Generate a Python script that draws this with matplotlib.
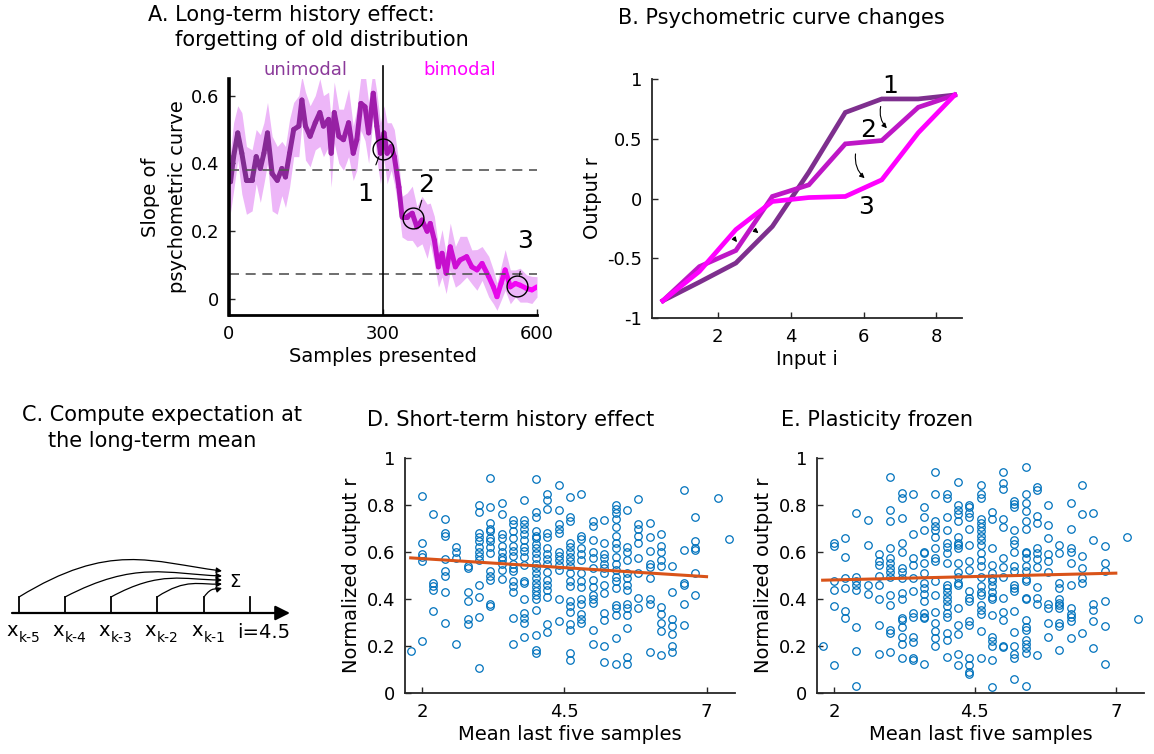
import numpy as np
import matplotlib
matplotlib.use("Agg")
import matplotlib.pyplot as plt
from matplotlib.collections import LineCollection
from matplotlib.colors import LinearSegmentedColormap
from matplotlib.patches import FancyArrowPatch
from matplotlib.path import Path

plt.rcParams['font.family'] = 'DejaVu Sans'

W, H = 1154, 754

# ---- panel A data: slope of psychometric curve over samples
a_x = [0, 3, 9, 17, 25, 34, 45, 53, 61, 68, 75, 84, 94, 103, 110, 118, 126, 136, 142, 149,
       158, 168, 177, 184, 194, 199, 205, 214, 223, 233, 242, 249, 257, 265, 272, 281, 288, 295, 302, 308,
       316, 322, 331, 337, 347, 357, 366, 376, 386, 392, 400, 408, 415, 423, 431, 441, 450, 463, 473, 483,
       493, 506, 515, 522, 530, 538, 548, 558, 567, 580, 590, 600]
a_y = [0.36, 0.346, 0.42, 0.49, 0.43, 0.35, 0.35, 0.42, 0.385, 0.43, 0.49, 0.37, 0.35, 0.385, 0.36, 0.43, 0.50, 0.51, 0.587, 0.51,
       0.48, 0.52, 0.55, 0.51, 0.53, 0.43, 0.55, 0.48, 0.47, 0.52, 0.43, 0.47, 0.577, 0.567, 0.49, 0.607, 0.51, 0.43, 0.49, 0.43,
       0.45, 0.42, 0.33, 0.243, 0.243, 0.253, 0.213, 0.233, 0.20, 0.223, 0.174, 0.095, 0.135, 0.076, 0.154, 0.095, 0.115, 0.125, 0.095, 0.086,
       0.105, 0.066, 0.036, 0.007, 0.046, 0.086, 0.036, 0.046, 0.041, 0.031, 0.027, 0.036]
a_sd = [0.06, 0.09, 0.1, 0.08, 0.12, 0.1, 0.09, 0.08, 0.1, 0.09, 0.09, 0.11, 0.1, 0.08, 0.09, 0.1, 0.08, 0.09, 0.07, 0.1,
        0.09, 0.08, 0.1, 0.09, 0.08, 0.1, 0.09, 0.08, 0.09, 0.1, 0.08, 0.09, 0.08, 0.1, 0.09, 0.07, 0.1, 0.09, 0.08, 0.09,
        0.07, 0.08, 0.07, 0.06, 0.07, 0.08, 0.06, 0.07, 0.08, 0.06, 0.07, 0.06, 0.07, 0.06, 0.07, 0.06, 0.07, 0.06, 0.05, 0.06,
        0.05, 0.06, 0.05, 0.04, 0.05, 0.06, 0.05, 0.04, 0.05, 0.04, 0.04, 0.03]
a_hlines = [0.38, 0.075]
a_switch = 300
a_marks_x = [300, 358, 562]
a_marks_y = [0.443, 0.24, 0.039]
a_marks_lab = ['1', '2', '3']

# ---- panel B data: psychometric curves
b_x = [0.5, 1.5, 2.5, 3.5, 4.5, 5.5, 6.5, 7.5, 8.5]
b_curve1 = [-0.855, -0.70, -0.54, -0.234, 0.22, 0.72, 0.833, 0.833, 0.866]
b_curve2 = [-0.855, -0.57, -0.435, 0.017, 0.114, 0.457, 0.485, 0.763, 0.866]
b_curve3 = [-0.855, -0.61, -0.26, -0.025, 0.008, 0.017, 0.156, 0.55, 0.866]

# ---- panel D data: normalized output vs mean of last five samples
d_cols = [1.8, 2.0, 2.2, 2.4, 2.6, 2.8, 3.0, 3.2, 3.4, 3.6, 3.8, 4.0, 4.2, 4.4, 4.6,
          4.8, 5.0, 5.2, 5.4, 5.6, 5.8, 6.0, 6.2, 6.4, 6.6, 6.8, 7.2, 7.4]
d_vals = [
    [0.18],
    [0.84, 0.64, 0.59, 0.58, 0.56, 0.22],
    [0.76, 0.47, 0.455, 0.44, 0.35],
    [0.74, 0.68, 0.67, 0.57, 0.52, 0.50, 0.43, 0.30],
    [0.62, 0.60, 0.575, 0.21],
    [0.54, 0.53, 0.43, 0.39, 0.315, 0.295],
    [0.80, 0.77, 0.68, 0.665, 0.645, 0.62, 0.60, 0.585, 0.565, 0.46, 0.41, 0.325, 0.105],
    [0.915, 0.79, 0.725, 0.70, 0.69, 0.66, 0.645, 0.62, 0.595, 0.52, 0.50, 0.48, 0.38, 0.37],
    [0.81, 0.76, 0.675, 0.66, 0.625, 0.60, 0.58, 0.565, 0.55, 0.525, 0.485],
    [0.735, 0.72, 0.69, 0.66, 0.625, 0.605, 0.585, 0.55, 0.53, 0.52, 0.475, 0.455, 0.43, 0.32, 0.21],
    [0.82, 0.735, 0.72, 0.70, 0.675, 0.65, 0.62, 0.605, 0.58, 0.545, 0.477, 0.47, 0.40, 0.34, 0.32, 0.30, 0.24],
    [0.91, 0.77, 0.75, 0.69, 0.67, 0.66, 0.635, 0.615, 0.595, 0.575, 0.55, 0.53, 0.51, 0.49, 0.47,
     0.45, 0.435, 0.415, 0.40, 0.355, 0.245, 0.185, 0.17],
    [0.845, 0.82, 0.785, 0.68, 0.665, 0.615, 0.59, 0.57, 0.55, 0.515, 0.48, 0.46, 0.44, 0.41, 0.295, 0.26],
    [0.885, 0.78, 0.72, 0.70, 0.68, 0.60, 0.585, 0.565, 0.545, 0.525, 0.40, 0.305],
    [0.835, 0.75, 0.73, 0.64, 0.62, 0.60, 0.58, 0.56, 0.54, 0.51, 0.475, 0.455, 0.39, 0.37, 0.345,
     0.295, 0.27, 0.17, 0.14],
    [0.845, 0.67, 0.655, 0.615, 0.59, 0.565, 0.51, 0.475, 0.45, 0.40, 0.38, 0.335, 0.315, 0.30],
    [0.73, 0.71, 0.65, 0.60, 0.575, 0.53, 0.48, 0.45, 0.415, 0.40, 0.385, 0.27, 0.21],
    [0.735, 0.64, 0.59, 0.575, 0.55, 0.53, 0.51, 0.46, 0.425, 0.34, 0.31, 0.20, 0.13],
    [0.80, 0.785, 0.765, 0.74, 0.705, 0.67, 0.64, 0.615, 0.58, 0.55, 0.525, 0.495, 0.475, 0.445,
     0.375, 0.36, 0.33, 0.235, 0.125],
    [0.78, 0.62, 0.60, 0.565, 0.51, 0.49, 0.46, 0.44, 0.38, 0.36, 0.33, 0.275, 0.155, 0.125],
    [0.825, 0.72, 0.70, 0.67, 0.64, 0.575, 0.51, 0.405, 0.36],
    [0.725, 0.665, 0.605, 0.55, 0.535, 0.49, 0.40, 0.38, 0.175],
    [0.675, 0.625, 0.60, 0.565, 0.54, 0.365, 0.335, 0.30, 0.265, 0.16],
    [0.54, 0.43, 0.315, 0.285, 0.25, 0.20, 0.175],
    [0.865, 0.61, 0.47, 0.46, 0.38, 0.29],
    [0.75, 0.645, 0.615, 0.61, 0.51, 0.415],
    [0.83],
    [0.655],
]
d_fit_x = [1.8, 7.0]
d_fit_y = [0.575, 0.495]

# ---- panel E data: plasticity frozen
e_cols = [1.8, 2.0, 2.2, 2.4, 2.6, 2.8, 3.0, 3.2, 3.4, 3.6, 3.8, 4.0, 4.2, 4.4, 4.6,
          4.8, 5.0, 5.2, 5.4, 5.6, 5.8, 6.0, 6.2, 6.4, 6.6, 6.8, 7.2, 7.4]
e_vals = [
    [0.20],
    [0.64, 0.625, 0.475, 0.44, 0.37, 0.12],
    [0.66, 0.58, 0.49, 0.445, 0.35, 0.32],
    [0.765, 0.495, 0.475, 0.46, 0.44, 0.28, 0.18, 0.03],
    [0.735, 0.63, 0.46, 0.42],
    [0.59, 0.56, 0.545, 0.50, 0.46, 0.40, 0.29, 0.165],
    [0.92, 0.78, 0.73, 0.615, 0.575, 0.555, 0.53, 0.515, 0.495, 0.415, 0.375, 0.27, 0.255, 0.175],
    [0.85, 0.83, 0.745, 0.64, 0.60, 0.53, 0.515, 0.49, 0.425, 0.40, 0.32, 0.31, 0.28, 0.24, 0.21, 0.15],
    [0.845, 0.675, 0.575, 0.545, 0.49, 0.435, 0.34, 0.325, 0.24, 0.215, 0.15, 0.14],
    [0.79, 0.75, 0.695, 0.60, 0.595, 0.555, 0.51, 0.47, 0.445, 0.42, 0.39, 0.34, 0.325, 0.32, 0.125],
    [0.94, 0.845, 0.73, 0.71, 0.695, 0.665, 0.615, 0.575, 0.56, 0.475, 0.415, 0.345, 0.30, 0.265, 0.235, 0.20],
    [0.845, 0.83, 0.75, 0.695, 0.64, 0.62, 0.595, 0.555, 0.46, 0.445, 0.43, 0.41, 0.39, 0.37, 0.34,
     0.325, 0.255, 0.225, 0.155],
    [0.90, 0.80, 0.78, 0.76, 0.73, 0.665, 0.64, 0.63, 0.615, 0.555, 0.515, 0.495, 0.47, 0.46, 0.36,
     0.29, 0.25, 0.165, 0.12],
    [0.80, 0.79, 0.765, 0.75, 0.70, 0.63, 0.56, 0.525, 0.435, 0.405, 0.39, 0.305, 0.29, 0.15, 0.12, 0.09, 0.08],
    [0.885, 0.845, 0.83, 0.74, 0.725, 0.705, 0.69, 0.67, 0.65, 0.63, 0.595, 0.565, 0.54, 0.495, 0.455,
     0.43, 0.415, 0.375, 0.355, 0.335, 0.265, 0.15],
    [0.77, 0.74, 0.615, 0.545, 0.51, 0.49, 0.475, 0.455, 0.43, 0.41, 0.40, 0.33, 0.24, 0.22, 0.20, 0.14, 0.025],
    [0.94, 0.895, 0.87, 0.74, 0.705, 0.575, 0.535, 0.495, 0.405, 0.345, 0.31, 0.20, 0.195],
    [0.815, 0.805, 0.79, 0.695, 0.65, 0.635, 0.60, 0.54, 0.52, 0.46, 0.445, 0.435, 0.35, 0.26, 0.20,
     0.165, 0.15, 0.06],
    [0.96, 0.845, 0.81, 0.775, 0.73, 0.70, 0.60, 0.595, 0.575, 0.54, 0.52, 0.485, 0.475, 0.405, 0.40,
     0.31, 0.28, 0.27, 0.225, 0.21, 0.19, 0.17, 0.03],
    [0.875, 0.865, 0.755, 0.725, 0.615, 0.595, 0.57, 0.535, 0.45, 0.405, 0.38, 0.16],
    [0.80, 0.715, 0.66, 0.59, 0.56, 0.515, 0.38, 0.36, 0.30, 0.24],
    [0.63, 0.595, 0.47, 0.445, 0.40, 0.385, 0.375, 0.36, 0.30, 0.285, 0.185],
    [0.81, 0.70, 0.615, 0.60, 0.555, 0.46, 0.36, 0.335, 0.325, 0.305, 0.235],
    [0.885, 0.76, 0.585, 0.53, 0.49, 0.47, 0.255],
    [0.765, 0.65, 0.38, 0.355, 0.305, 0.19],
    [0.625, 0.555, 0.52, 0.39, 0.285, 0.125],
    [0.665],
    [0.315],
]
e_fit_x = [1.8, 7.0]
e_fit_y = [0.48, 0.51]

# ---- panel C schematic
c_ticks = [19, 65, 111, 157, 204, 250]
c_subs = ['k-5', 'k-4', 'k-3', 'k-2', 'k-1']
c_end_y = [571, 576, 580, 584, 588]
c_peak_y = [562, 574, 580, 585, 590]

PURPLE = '#7E2F8E'
MID = '#BE17C6'
MAGENTA = '#FF00FF'
BLUE = '#0072BD'
ORANGE = '#D95319'
SPINE = '#262626'

TITLE_FS = 15
LABEL_FS = 14
TICK_FS = 13


def fx(px):
    return px / W


def fy(py):
    return 1 - py / H


def ftext(x, y, s, **kw):
    fig.text(fx(x), fy(y), s, **kw)


def style(ax, lw=1.0):
    for side in ['top', 'right']:
        ax.spines[side].set_visible(False)
    for side in ['left', 'bottom']:
        ax.spines[side].set_linewidth(lw)
        ax.spines[side].set_color(SPINE)
    ax.tick_params(direction='in', length=4, width=1, labelsize=TICK_FS, color=SPINE, pad=7)


fig = plt.figure(figsize=(W / 100, H / 100), dpi=100)

# ================= A =================
axA = fig.add_axes([fx(229), fy(315), fx(537) - fx(229), fy(79) - fy(315)])
style(axA, 1.5)
axA.spines['left'].set_linewidth(2.6)
axA.spines['left'].set_color('k')
axA.spines['bottom'].set_linewidth(2.0)
axA.spines['bottom'].set_color('k')
ax_ = np.array(a_x, float)
ay_ = np.array(a_y)
asd = np.array(a_sd)
axA.fill_between(ax_, ay_ - asd, ay_ + asd, color='#EDB6F8', lw=0)
cmap = LinearSegmentedColormap.from_list('pm', [PURPLE, '#A21AAE', MAGENTA])
pts = np.column_stack([ax_, ay_]).reshape(-1, 1, 2)
segs = np.concatenate([pts[:-1], pts[1:]], axis=1)
lc = LineCollection(segs, colors=cmap(ax_[:-1] / 600.0), linewidths=3.6, capstyle='round', joinstyle='round')
axA.add_collection(lc)
for h in a_hlines:
    axA.axhline(h, color='#555555', lw=1.2, ls=(0, (6, 4)))
axA.plot([a_switch, a_switch], [-0.047, 0.688], color='k', lw=1.2, clip_on=False)
axA.plot(a_marks_x, a_marks_y, 'o', ms=15, mfc='none', mec='k', mew=1.0)
lab_pos = [(265, 0.31), (384, 0.335), (577, 0.17)]
lead_to = [(292, 0.42), (371, 0.268), (566, 0.07)]
for lab, (lx, ly), (tx, ty) in zip(a_marks_lab, lab_pos, lead_to):
    axA.annotate(lab, xy=(tx, ty), xytext=(lx, ly), fontsize=18, ha='center', va='center',
                 arrowprops=dict(arrowstyle='-', color='k', lw=0.8, shrinkA=11, shrinkB=0))
axA.text(149, 0.677, 'unimodal', color='#8B3A9A', fontsize=13, ha='center', va='center')
axA.text(450, 0.677, 'bimodal', color=MAGENTA, fontsize=13, ha='center', va='center')
axA.set_xlim(0, 600)
axA.set_ylim(-0.047, 0.649)
axA.set_xticks([0, 300, 600])
axA.set_yticks([0, 0.2, 0.4, 0.6])
axA.set_yticklabels(['0', '0.2', '0.4', '0.6'])
axA.set_xlabel('Samples presented', fontsize=LABEL_FS, labelpad=3)
axA.set_ylabel('Slope of\npsychometric curve', fontsize=LABEL_FS, labelpad=3, linespacing=1.5)

# ================= B =================
axB = fig.add_axes([fx(652), fy(318), fx(962) - fx(652), fy(79) - fy(318)])
style(axB, 1.3)
axB.plot(b_x, b_curve1, color=PURPLE, lw=3.4, solid_joinstyle='miter')
axB.plot(b_x, b_curve2, color=MID, lw=3.4, solid_joinstyle='miter')
axB.plot(b_x, b_curve3, color=MAGENTA, lw=3.4, solid_joinstyle='miter')
axB.text(6.73, 0.94, '1', fontsize=18, ha='center', va='center')
axB.text(6.13, 0.574, '2', fontsize=18, ha='center', va='center')
axB.text(6.06, -0.07, '3', fontsize=18, ha='center', va='center')
for (x0, y0), (x1, y1), rad in [((6.47, 0.77), (6.64, 0.588), 0.25),
                                ((5.78, 0.373), (6.03, 0.17), 0.25),
                                ((2.44, -0.33), (2.53, -0.365), 0.0),
                                ((3.0, -0.26), (3.12, -0.29), 0.0)]:
    axB.annotate('', xy=(x1, y1), xytext=(x0, y0),
                 arrowprops=dict(arrowstyle='-|>', color='k', lw=0.8, mutation_scale=7,
                                 connectionstyle='arc3,rad=%s' % rad, shrinkA=0, shrinkB=0))
axB.set_xlim(0.2, 8.7)
axB.set_ylim(-1, 1)
axB.set_xticks([2, 4, 6, 8])
axB.set_yticks([-1, -0.5, 0, 0.5, 1])
axB.set_yticklabels(['-1', '-0.5', '0', '0.5', '1'])
axB.set_xlabel('Input i', fontsize=LABEL_FS, labelpad=3)
axB.set_ylabel('Output r', fontsize=LABEL_FS, labelpad=4)

# ================= C =================
axC = fig.add_axes([0, fy(700), fx(320), fy(400) - fy(700)])
axC.set_xlim(0, 320)
axC.set_ylim(700, 400)
axC.axis('off')
axC.annotate('', xy=(290, 613), xytext=(12, 613),
             arrowprops=dict(arrowstyle='-|>', color='k', lw=1.6, mutation_scale=22, shrinkA=0, shrinkB=0))
for t in c_ticks:
    axC.plot([t, t], [597, 613], color='k', lw=1.3)
for t, sub in zip(c_ticks[:-1], c_subs):
    axC.text(t - 1, 630, 'x', fontsize=14, ha='right', va='center')
    axC.text(t, 638, sub, fontsize=10, ha='left', va='center')
axC.text(237, 632, 'i=4.5', fontsize=14, ha='left', va='center')
for t, ye, yp in zip(c_ticks[:-1], c_end_y, c_peak_y):
    xe = 222
    verts = [(t, 597), (t + 0.45 * (xe - t), yp - 0.6 * (597 - yp)), (xe - 0.35 * (xe - t), yp), (xe, ye)]
    p = Path(verts, [Path.MOVETO, Path.CURVE4, Path.CURVE4, Path.CURVE4])
    axC.add_patch(FancyArrowPatch(path=p, arrowstyle='-|>', mutation_scale=8, color='k', lw=0.9))
axC.text(235, 582, '\u03a3', fontsize=13, ha='center', va='center')


# ================= D & E =================
def scatter_panel(rect, cols, vals, fit_x, fit_y):
    ax = fig.add_axes(rect)
    style(ax, 1.3)
    xs = np.concatenate([[c] * len(v) for c, v in zip(cols, vals)])
    ys = np.concatenate([np.array(v, float) for v in vals])
    ax.plot(xs, ys, 'o', ms=5.4, mfc='none', mec=BLUE, mew=0.9, clip_on=False)
    ax.plot(fit_x, fit_y, color=ORANGE, lw=2.2)
    ax.set_xlim(1.7, 7.5)
    ax.set_ylim(0, 1)
    ax.set_xticks([2, 4.5, 7])
    ax.set_xticklabels(['2', '4.5', '7'])
    ax.set_yticks([0, 0.2, 0.4, 0.6, 0.8, 1])
    ax.set_yticklabels(['0', '0.2', '0.4', '0.6', '0.8', '1'])
    ax.set_xlabel('Mean last five samples', fontsize=LABEL_FS, labelpad=3)
    ax.set_ylabel('Normalized output r', fontsize=LABEL_FS, labelpad=4)
    return ax


scatter_panel([fx(405), fy(693), fx(735) - fx(405), fy(458) - fy(693)], d_cols, d_vals, d_fit_x, d_fit_y)
scatter_panel([fx(817), fy(693), fx(1144) - fx(817), fy(458) - fy(693)], e_cols, e_vals, e_fit_x, e_fit_y)

# ================= titles =================
ftext(148, 15, 'A. Long-term history effect:', fontsize=TITLE_FS, va='center')
ftext(175, 40, 'forgetting of old distribution', fontsize=TITLE_FS, va='center')
ftext(618, 18, 'B. Psychometric curve changes', fontsize=TITLE_FS, va='center')
ftext(22, 415, 'C. Compute expectation at', fontsize=TITLE_FS, va='center')
ftext(48, 441, 'the long-term mean', fontsize=TITLE_FS, va='center')
ftext(367, 420, 'D. Short-term history effect', fontsize=TITLE_FS, va='center')
ftext(781, 420, 'E. Plasticity frozen', fontsize=TITLE_FS, va='center')

fig.savefig('out.png', dpi=100)
